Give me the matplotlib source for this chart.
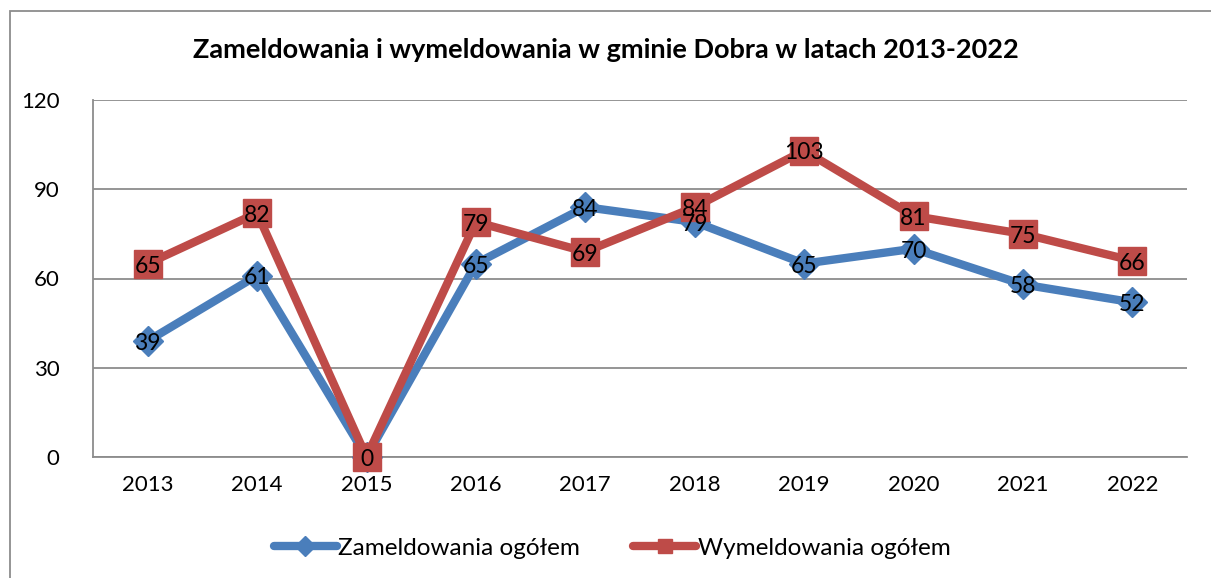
import matplotlib.pyplot as plt
from matplotlib.patches import Rectangle

plt.rcParams['font.family'] = ['Lato', 'DejaVu Sans']

years = ["2013", "2014", "2015", "2016", "2017", "2018", "2019", "2020", "2021", "2022"]
zameldowania = [39, 61, 0, 65, 84, 79, 65, 70, 58, 52]
wymeldowania = [65, 82, 0, 79, 69, 84, 103, 81, 75, 66]

blue = "#4a7ebb"
red = "#be4b48"

fig = plt.figure(figsize=(12.11, 5.78), dpi=100)
ax = fig.add_axes([93 / 1211, 1 - 457 / 578, (1187 - 93) / 1211, (457 - 100) / 578])

x = range(len(years))
ax.plot(x, zameldowania, color=blue, lw=6, marker="D", ms=15, solid_capstyle="round",
        label="Zameldowania ogółem", zorder=3, clip_on=False)
ax.plot(x, wymeldowania, color=red, lw=6, marker="s", ms=20, solid_capstyle="round",
        label="Wymeldowania ogółem", zorder=4, clip_on=False)

# etykiety danych (0 dla 2015 tylko raz, jak w oryginale)
for i, v in enumerate(zameldowania):
    if i == 2:
        continue
    ax.text(i, v - 0.8, str(v), ha="center", va="center", fontsize=16.5, zorder=5)
for i, v in enumerate(wymeldowania):
    ax.text(i, v - 0.8, str(v), ha="center", va="center", fontsize=16.5, zorder=5)

ax.set_xlim(-0.5, 9.5)
ax.set_ylim(0, 120)
ax.set_yticks([0, 30, 60, 90, 120])
ax.set_xticks(list(x))
ax.set_xticklabels(years)
ax.tick_params(axis="both", length=0, labelsize=16)
ax.tick_params(axis="x", pad=13)
ax.tick_params(axis="y", pad=24)
ax.grid(axis="y", color="#8c8c8c", lw=1.3)
ax.set_axisbelow(True)
for s in ["top", "right"]:
    ax.spines[s].set_visible(False)
for s in ["left", "bottom"]:
    ax.spines[s].set_color("#8c8c8c")
    ax.spines[s].set_linewidth(1.3)

fig.text(0.5, 1 - 50 / 578, "Zameldowania i wymeldowania w gminie Dobra w latach 2013-2022",
         ha="center", va="center", fontsize=19.5, fontweight="bold")

leg = fig.legend(loc="center", bbox_to_anchor=(612 / 1211, 1 - 548 / 578), ncol=2,
                 frameon=False, fontsize=17.5, handlelength=2.6, columnspacing=2.2,
                 handletextpad=0.05)
for h in leg.legend_handles:
    h.set_markersize(10)

fig.add_artist(Rectangle((10 / 1211, -0.1), 1.2, 1 - 11 / 578 + 0.1, transform=fig.transFigure,
                         fill=False, edgecolor="#8c8c8c", lw=1.3))

fig.savefig("out.png", dpi=100)
